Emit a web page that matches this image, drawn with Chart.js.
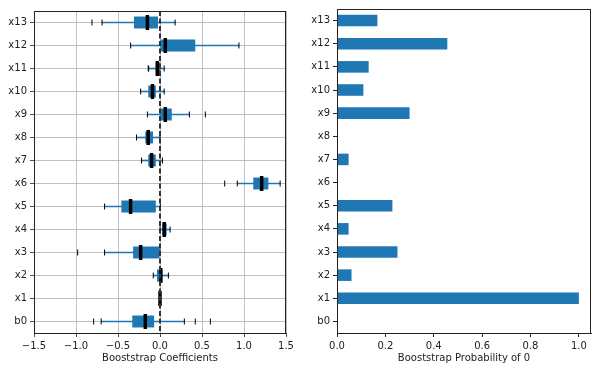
<!DOCTYPE html>
<html>
<head>
<meta charset="utf-8">
<script src="https://cdn.jsdelivr.net/npm/chart.js@4/dist/chart.umd.min.js"></script>
<style>
  html, body { margin: 0; padding: 0; background: #fff; }
  #wrap { position: relative; width: 598px; height: 371px; }
  canvas { position: absolute; top: 0; }
</style>
</head>
<body>
<div id="wrap">
  <canvas id="coefChart" width="300" height="371" style="left:0"></canvas>
  <canvas id="probChart" width="298" height="371" style="left:300px"></canvas>
</div>
<script>
// categories, top to bottom
const names = ['x13', 'x12', 'x11', 'x10', 'x9', 'x8', 'x7', 'x6', 'x5', 'x4', 'x3', 'x2', 'x1', 'b0'];

// bootstrap coefficient box stats
const whisLo = [-0.69, -0.35, -0.135, -0.23, -0.15, -0.28, -0.22, 0.92, -0.66, 0.0, -0.66, -0.08, 0, -0.70];
const q1     = [-0.31, 0.0, -0.05, -0.14, 0.0, -0.175, -0.14, 1.11, -0.46, 0.028, -0.32, -0.036, 0, -0.33];
const med    = [-0.15, 0.063, -0.032, -0.09, 0.063, -0.14, -0.10, 1.21, -0.35, 0.05, -0.23, 0.008, 0, -0.175];
const q3     = [-0.024, 0.42, 0.004, -0.05, 0.14, -0.083, -0.05, 1.29, -0.05, 0.079, 0, 0.032, 0, -0.07];
const whisHi = [0.18, 0.94, 0.05, 0.05, 0.35, 0.0, 0.03, 1.43, 0.004, 0.12, 0, 0.10, 0, 0.29];
const fliers = [[-0.81], [], [-0.14], [], [0.54], [], [], [0.77], [], [], [-0.98], [], [], [-0.79, 0.42, 0.60]];

// probability that the coefficient is 0
const probZero = [0.167, 0.456, 0.131, 0.109, 0.30, 0, 0.048, 0, 0.229, 0.048, 0.25, 0.06, 1.0, 0];

const coefTicks = { min: -1.5, max: 1.5, step: 0.5 };
const probTicks = { min: 0, max: 1.05, step: 0.2 };
const zeroLine = 0;

const BLUE = '#1f77b4';
const TXT = '#222';

Chart.defaults.font.family = 'DejaVu Sans';
Chart.defaults.font.size = 10;
Chart.defaults.color = TXT;

function fmt(v) {
  const s = Math.abs(v).toFixed(1);
  return v < -1e-9 ? '\u2212' + s : s;
}

// top + right spines (matplotlib style box)
const frame = {
  id: 'frame',
  afterDraw(chart) {
    const { ctx, chartArea: a } = chart;
    ctx.save();
    ctx.strokeStyle = '#222';
    ctx.lineWidth = 1;
    ctx.strokeRect(a.left + 0.5, a.top + 0.5, a.right - a.left - 1, a.bottom - a.top);
    ctx.restore();
  }
};

// dashed vertical line at zero
const zeroMark = {
  id: 'zeroMark',
  afterDatasetsDraw(chart) {
    const { ctx, chartArea: a, scales } = chart;
    const x = scales.x.getPixelForValue(zeroLine);
    ctx.save();
    ctx.strokeStyle = '#333';
    ctx.lineWidth = 2;
    ctx.setLineDash([5, 2.5]);
    ctx.beginPath();
    ctx.moveTo(x, a.top);
    ctx.lineTo(x, a.bottom);
    ctx.stroke();
    ctx.restore();
  }
};

/* LEFT - boxplots of bootstrap coefficients */
const capPoints = names.flatMap((n, i) => [{ x: whisLo[i], y: n }, { x: whisHi[i], y: n }]);
const flierPoints = names.flatMap((n, i) => fliers[i].map(v => ({ x: v, y: n })));
const medPoints = names.map((n, i) => ({ x: med[i], y: n }));

new Chart(document.getElementById('coefChart'), {
  type: 'bar',
  data: {
    labels: names,
    datasets: [
      {
        type: 'bar', indexAxis: 'y', grouped: false, order: 5,
        data: names.map((_, i) => [whisLo[i], whisHi[i]]),
        backgroundColor: BLUE, barThickness: 1, borderWidth: 0
      },
      {
        type: 'bar', indexAxis: 'y', grouped: false, order: 4,
        data: names.map((_, i) => [q1[i], q3[i]]),
        backgroundColor: BLUE, categoryPercentage: 1, barPercentage: 0.52, borderWidth: 0
      },
      {
        type: 'scatter', order: 3, data: capPoints,
        pointStyle: 'line', rotation: 90, radius: 3, borderWidth: 1,
        borderColor: '#000', backgroundColor: '#000'
      },
      {
        type: 'scatter', order: 2, data: flierPoints,
        pointStyle: 'line', rotation: 90, radius: 3, borderWidth: 1,
        borderColor: '#000', backgroundColor: '#000'
      },
      {
        type: 'scatter', order: 1, data: medPoints,
        pointStyle: 'line', rotation: 90, radius: 7.5, borderWidth: 3.5,
        borderColor: '#000', backgroundColor: '#000'
      }
    ]
  },
  options: {
    responsive: false,
    animation: false,
    layout: { padding: { left: 0, right: 14, top: 7, bottom: 0 } },
    plugins: { legend: { display: false }, tooltip: { enabled: false } },
    scales: {
      x: {
        type: 'linear',
        offset: false,
        min: coefTicks.min, max: coefTicks.max,
        ticks: { stepSize: coefTicks.step, callback: fmt, padding: 3, maxRotation: 0 },
        grid: { offset: false, color: '#b0b0b0', lineWidth: 0.8, tickColor: '#222', tickLength: 4 },
        border: { color: '#222', width: 1 },
        title: { display: true, text: 'Booststrap Coefficients', padding: { top: 1, bottom: 7 } },
        afterFit(s) { s.height = 38; }
      },
      y: {
        type: 'category',
        labels: names,
        offset: true,
        ticks: { padding: 3 },
        grid: { offset: false, color: '#b0b0b0', lineWidth: 0.8, tickColor: '#222', tickLength: 4 },
        border: { color: '#222', width: 1 },
        afterFit(s) { s.width = 34; }
      }
    }
  },
  plugins: [frame, zeroMark]
});

/* RIGHT - probability of zero */
new Chart(document.getElementById('probChart'), {
  type: 'bar',
  data: {
    labels: names,
    datasets: [{
      data: probZero,
      backgroundColor: BLUE,
      borderWidth: 0,
      categoryPercentage: 1,
      barPercentage: 0.5
    }]
  },
  options: {
    indexAxis: 'y',
    responsive: false,
    animation: false,
    layout: { padding: { left: 0, right: 7, top: 7, bottom: 0 } },
    plugins: { legend: { display: false }, tooltip: { enabled: false } },
    scales: {
      x: {
        min: probTicks.min, max: probTicks.max,
        ticks: { stepSize: probTicks.step, includeBounds: false, callback: fmt, padding: 3, maxRotation: 0 },
        grid: { drawOnChartArea: false, tickColor: '#222', tickLength: 4 },
        border: { color: '#222', width: 1 },
        title: { display: true, text: 'Booststrap Probability of 0', padding: { top: 1, bottom: 7 } },
        afterFit(s) { s.height = 38; }
      },
      y: {
        offset: true,
        ticks: { padding: 3 },
        grid: { drawOnChartArea: false, offset: false, tickColor: '#222', tickLength: 4 },
        border: { color: '#222', width: 1 },
        afterFit(s) { s.width = 37; }
      }
    }
  },
  plugins: [frame]
});
</script>
</body>
</html>
